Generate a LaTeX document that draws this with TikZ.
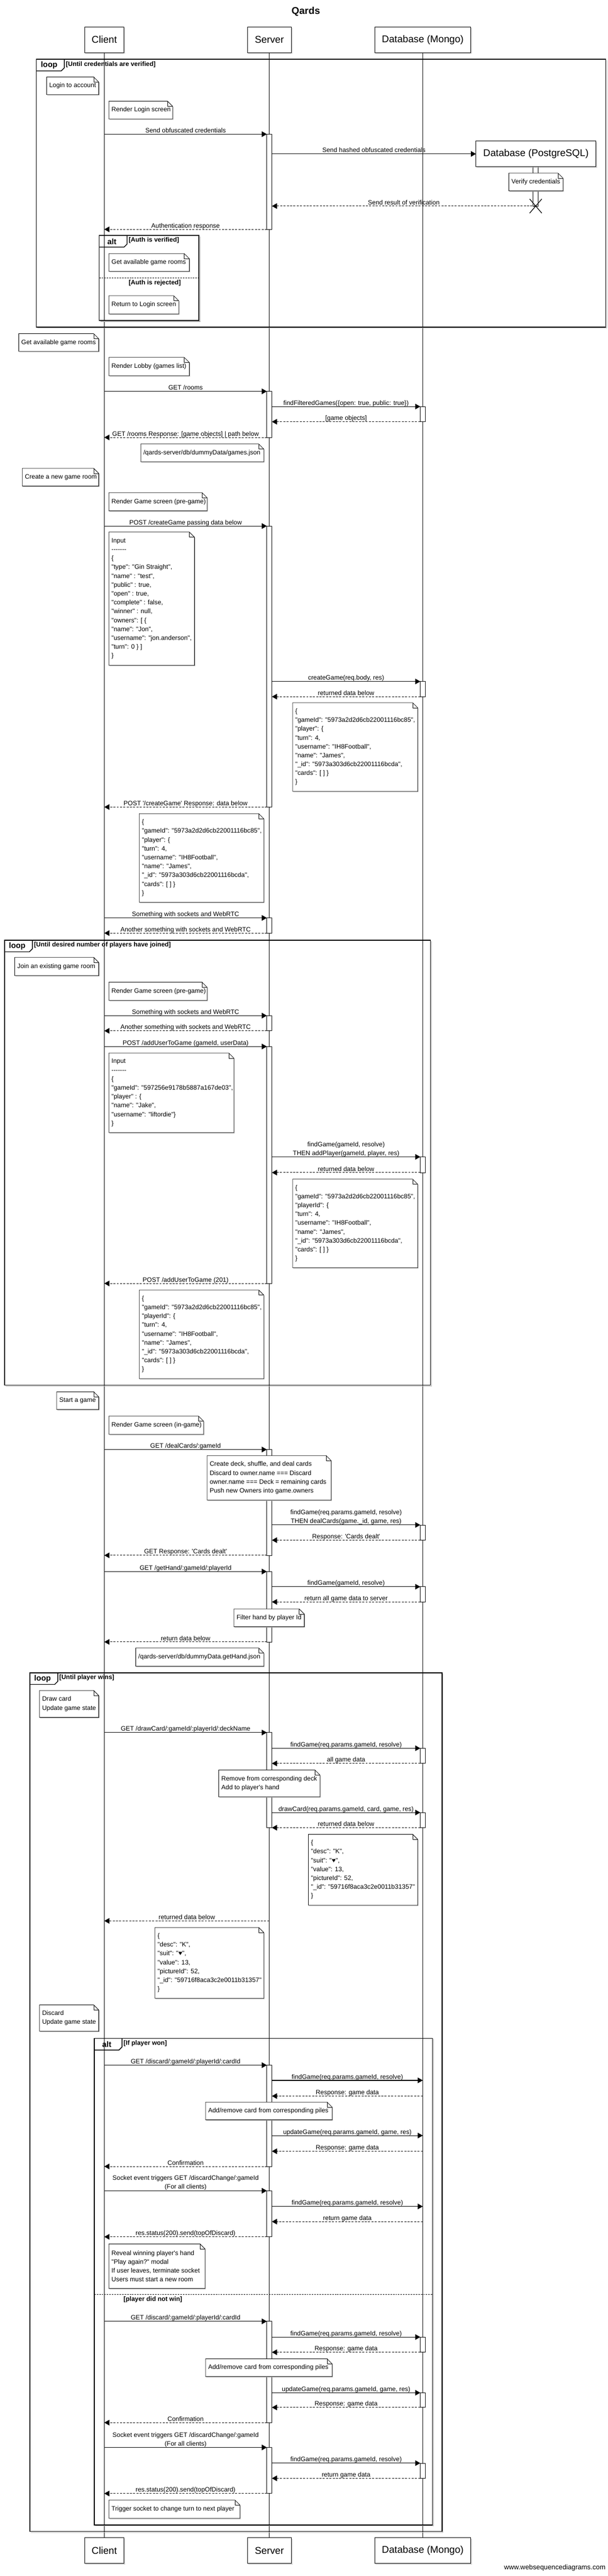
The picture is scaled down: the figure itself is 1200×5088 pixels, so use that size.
\documentclass[tikz,border=0pt]{standalone}
\usepackage{fontspec}
\newfontfamily\lsans{Liberation Sans}
\usetikzlibrary{arrows.meta,shadows}

\tikzset{
  lbl/.style={font=\lsans\fontsize{12.6}{17.5}\selectfont},
  msgtext/.style={lbl, anchor=base, inner sep=0pt},
  msgtextii/.style={lbl, anchor=south, inner sep=0pt, align=center},
  call/.style={line width=1.1pt, -{Triangle[length=10pt,width=11pt]}},
  ret/.style={line width=1pt, dash pattern=on 4pt off 2.5pt, -{Triangle[length=10pt,width=11pt]}},
  notetext/.style={lbl, align=left, inner sep=0pt, anchor=west},
  notebox/.style={fill=white, draw=black, line width=0.8pt},
  noteshadow/.style={fill=gray!55},
  part/.style={draw, line width=1pt, fill=white, inner sep=0pt, minimum height=51pt,
    font=\lsans\fontsize{19.5}{22}\selectfont,
    drop shadow={shadow xshift=2pt, shadow yshift=-2pt, fill=gray!60}},
  life/.style={line width=0.7pt},
  actbox/.style={draw, fill=white, line width=0.8pt},
  framebox/.style={line width=1.5pt},
  frameshadow/.style={draw=gray!60, line width=1.2pt},
  tabtext/.style={font=\lsans\bfseries\fontsize{15.5}{18}\selectfont, inner sep=0pt},
  condtext/.style={font=\lsans\bfseries\fontsize{12.6}{15}\selectfont, inner sep=0pt, anchor=west},
  elseline/.style={line width=1.3pt, dash pattern=on 3pt off 2pt},
}

\newcommand{\seqmsg}[6]{%
  \coordinate (#1a) at (#3,-#5);
  \coordinate (#1b) at (#4,-#5);
  \draw[#2] (#1a) -- (#1b);
  \node[msgtext] (#1) at ({(#3+#4)/2},{-#5+3}) {#6};
}
\newcommand{\seqmsgii}[6]{%
  \coordinate (#1a) at (#3,-#5);
  \coordinate (#1b) at (#4,-#5);
  \draw[#2] (#1a) -- (#1b);
  \node[msgtextii] (#1) at ({(#3+#4)/2},{-#5+0.5}) {#6};
}
\newcommand{\seqnote}[6]{%
  \fill[noteshadow] ({#2+1.5},{-#3-1.5}) -- ({#4-10+1.5},{-#3-1.5}) -- ({#4+1.5},{-#3-10-1.5}) -- ({#4+1.5},{-#5-1.5}) -- ({#2+1.5},{-#5-1.5}) -- cycle;
  \draw[notebox] (#2,-#3) -- ({#4-10},-#3) -- (#4,{-#3-10}) -- (#4,-#5) -- (#2,-#5) -- cycle;
  \draw[line width=0.6pt] ({#4-10},-#3) -- ({#4-10},{-#3-10}) -- (#4,{-#3-10});
  \node[notetext] (#1) at ({#2+5},{-(#3+#5)/2}) {#6};
}
\newcommand{\seqframe}[7]{%
  \draw[frameshadow] ({#2+2},{-#5-2}) -- ({#4+2},{-#5-2}) -- ({#4+2},{-#3-2});
  \draw[framebox] (#2,-#3) rectangle (#4,-#5);
  \draw[framebox] (#2,{-#3-23}) -- ({#2+49},{-#3-23}) -- ({#2+55},{-#3-17}) -- ({#2+55},-#3);
  \node[tabtext] (#1k) at ({#2+25},{-#3-12}) {#6};
  \node[condtext] (#1c) at ({#2+58},{-#3-10}) {#7};
}
\newcommand{\seqelse}[5]{%
  \draw[elseline] (#2,-#4) -- (#3,-#4);
  \node[condtext] (#1) at ({#2+58},{-#4-10}) {#5};
}
\newcommand{\seqact}[3]{\draw[actbox] ({#1-5},-#2) rectangle ({#1+5},-#3);}

\begin{document}
\begin{tikzpicture}[x=1pt,y=1pt]
\fill[white] (0,0) rectangle (1200,-5088);
\useasboundingbox (0,0) rectangle (1200,-5088);

% title
\node[font=\lsans\bfseries\fontsize{19.5}{22}\selectfont] (title) at (604,-23) {Qards};

% participants
\node[part, minimum width=78pt] (ctop) at (206,-78.5) {Client};
\node[part, minimum width=87pt] (stop) at (532,-78.5) {Server};
\node[part, minimum width=190pt] (mtop) at (835,-78.5) {Database (Mongo)};
\coordinate (cbotn) at (206,-5013);
\coordinate (sbotn) at (532,-5013);
\coordinate (mbotn) at (835,-5013);

% lifelines
\draw[life] (ctop.south) -- (cbotn);
\draw[life] (stop.south) -- (sbotn);
\draw[life] (mtop.south) -- (mbotn);

% server activations
\seqact{532}{265}{453}
\seqact{532}{773}{864}
\seqact{532}{1039}{1594}
\seqact{532}{1813}{1843}
\seqact{532}{2006}{2036}
\seqact{532}{2067}{2535}
\seqact{532}{2863}{3072}
\seqact{532}{3104}{3243}
\seqact{532}{3422}{3610}
\seqact{532}{4079}{4279}
\seqact{532}{4327}{4418}
\seqact{532}{4585}{4785}
\seqact{532}{4834}{4925}
% db activations
\seqact{835}{803}{833}
\seqact{835}{1346}{1376}
\seqact{835}{2285}{2316}
\seqact{835}{3012}{3042}
\seqact{835}{3134}{3164}
\seqact{835}{3453}{3483}
\seqact{835}{3580}{3610}
\seqact{835}{4616}{4646}
\seqact{835}{4726}{4755}
\seqact{835}{4865}{4895}

% PostgreSQL participant (created and destroyed)
\draw[actbox] (1053,-329) rectangle (1063,-407);
\node[part, minimum width=237pt] (pg) at (1058.5,-304) {Database (PostgreSQL)};
\coordinate (pgx) at (1058,-407);
\draw[line width=1.3pt] (1046,-393) -- (1070,-421);
\draw[line width=1.3pt] (1046,-421) -- (1070,-393);

% frames
\seqframe{lpA}{72}{117}{1196}{646}{loop}{[Until credentials are verified]}
\seqframe{altA}{196}{465}{393}{633}{alt}{[Auth is verified]}
\seqelse{altAe}{196}{393}{549}{[Auth is rejected]}
\seqframe{lpB}{9}{1857}{850}{2736}{loop}{[Until desired number of players have joined]}
\seqframe{lpC}{59}{3304}{873}{5000}{loop}{[Until player wins]}
\seqframe{altB}{186}{4026}{854}{4987}{alt}{[If player won]}
\seqelse{altBe}{186}{854}{4532}{[player did not win]}

% notes
\seqnote{n1}{92}{152}{195}{187}{Login to account}
\seqnote{n2}{215}{200}{341}{235}{Render Login screen}
\seqnote{n3}{1005}{342}{1112}{377}{Verify credentials}
\seqnote{n4}{215}{501}{374}{536}{Get available game rooms}
\seqnote{n5}{215}{584}{353}{620}{Return to Login screen}
\seqnote{n6}{37}{659}{195}{694}{Get available game rooms}
\seqnote{n7}{215}{706}{374}{742}{Render Lobby (games list)}
\seqnote{n8}{278}{877}{521}{912}{/qards-server/db/dummyData/games.json}
\seqnote{n9}{44}{925}{195}{960}{Create a new game room}
\seqnote{n10}{215}{973}{409}{1009}{Render Game screen (pre-game)}
\seqnote{n11}{215}{1051}{384}{1314}{Input\\-------\\\{\\"type": "Gin Straight",\\"name" : "test",\\"public" : true,\\"open" : true,\\"complete" : false,\\"winner" : null,\\"owners": [ \{\\"name": "Jon",\\"username": "jon.anderson",\\"turn": 0 \} ]\\\}}
\seqnote{n12}{578}{1388}{825}{1563}{\{\\"gameId": "5973a2d2d6cb22001116bc85",\\"player": \{\\"turn": 4,\\"username": "IH8Football",\\"name": "James",\\"\_id": "5973a303d6cb22001116bcda",\\"cards": [ ] \}\\\}}
\seqnote{n13}{275}{1607}{521}{1782}{\{\\"gameId": "5973a2d2d6cb22001116bc85",\\"player": \{\\"turn": 4,\\"username": "IH8Football",\\"name": "James",\\"\_id": "5973a303d6cb22001116bcda",\\"cards": [ ] \}\\\}}
\seqnote{n14}{29}{1891}{195}{1927}{Join an existing game room}
\seqnote{n15}{215}{1940}{409}{1976}{Render Game screen (pre-game)}
\seqnote{n16}{215}{2080}{462}{2237}{Input\\-------\\\{\\"gameId": "597256e9178b5887a167de03",\\"player" : \{\\"name": "Jake",\\"username": "liftordie"\}\\\}}
\seqnote{n17}{578}{2329}{825}{2504}{\{\\"gameId": "5973a2d2d6cb22001116bc85",\\"playerId": \{\\"turn": 4,\\"username": "IH8Football",\\"name": "James",\\"\_id": "5973a303d6cb22001116bcda",\\"cards": [ ] \}\\\}}
\seqnote{n18}{275}{2548}{521}{2723}{\{\\"gameId": "5973a2d2d6cb22001116bc85",\\"playerId": \{\\"turn": 4,\\"username": "IH8Football",\\"name": "James",\\"\_id": "5973a303d6cb22001116bcda",\\"cards": [ ] \}\\\}}
\seqnote{n19}{112}{2749}{195}{2784}{Start a game}
\seqnote{n20}{215}{2797}{402}{2833}{Render Game screen (in-game)}
\seqnote{n21}{409}{2875}{654}{2963}{Create deck, shuffle, and deal cards\\Discard to owner.name === Discard\\owner.name === Deck = remaining cards\\Push new Owners into game.owners}
\seqnote{n22}{462}{3178}{601}{3213}{Filter hand by player Id}
\seqnote{n23}{268}{3255}{521}{3291}{/qards-server/db/dummyData.getHand.json}
\seqnote{n24}{78}{3339}{195}{3392}{Draw card\\Update game state}
\seqnote{n25}{432}{3496}{632}{3549}{Remove from corresponding deck\\Add to player's hand}
\seqnote{n26}{609}{3623}{825}{3763}{\{\\"desc": "K",\\"suit": "♥",\\"value": 13,\\"pictureId": 52,\\"\_id": "59716f8aca3c2e0011b31357"\\\}}
\seqnote{n27}{306}{3807}{521}{3947}{\{\\"desc": "K",\\"suit": "♥",\\"value": 13,\\"pictureId": 52,\\"\_id": "59716f8aca3c2e0011b31357"\\\}}
\seqnote{n28}{78}{3960}{195}{4012}{Discard\\Update game state}
\seqnote{n29}{406}{4152}{656}{4187}{Add/remove card from corresponding piles}
\seqnote{n30}{215}{4432}{405}{4520}{Reveal winning player's hand\\"Play again?" modal\\If user leaves, terminate socket\\Users must start a new room}
\seqnote{n31}{406}{4659}{656}{4694}{Add/remove card from corresponding piles}
\seqnote{n32}{215}{4938}{474}{4974}{Trigger socket to change turn to next player}

% messages
\seqmsg{m1}{call}{206}{527}{265}{Send obfuscated credentials}
\seqmsg{m2}{call}{537}{940}{304}{Send hashed obfuscated credentials}
\seqmsg{m3}{ret}{1058}{537}{407}{Send result of verification}
\seqmsg{m4}{ret}{527}{206}{453}{Authentication response}
\seqmsg{m5}{call}{206}{527}{773}{GET /rooms}
\seqmsg{m6}{call}{537}{830}{803}{findFilteredGames(\{open: true, public: true\})}
\seqmsg{m7}{ret}{830}{537}{833}{[game objects]}
\seqmsg{m8}{ret}{527}{206}{864}{GET /rooms Response: [game objects] | path below}
\seqmsg{m9}{call}{206}{527}{1039}{POST /createGame passing data below}
\seqmsg{m10}{call}{537}{830}{1346}{createGame(req.body, res)}
\seqmsg{m11}{ret}{830}{537}{1376}{returned data below}
\seqmsg{m12}{ret}{527}{206}{1594}{POST '/createGame' Response: data below}
\seqmsg{m13}{call}{206}{527}{1813}{Something with sockets and WebRTC}
\seqmsg{m14}{ret}{527}{206}{1843}{Another something with sockets and WebRTC}
\seqmsg{m15}{call}{206}{527}{2006}{Something with sockets and WebRTC}
\seqmsg{m16}{ret}{527}{206}{2036}{Another something with sockets and WebRTC}
\seqmsg{m17}{call}{206}{527}{2067}{POST /addUserToGame (gameId, userData)}
\seqmsgii{m18}{call}{537}{830}{2285}{findGame(gameId, resolve)\\THEN addPlayer(gameId, player, res)}
\seqmsg{m19}{ret}{830}{537}{2316}{returned data below}
\seqmsg{m20}{ret}{527}{206}{2535}{POST /addUserToGame (201)}
\seqmsg{m21}{call}{206}{527}{2863}{GET /dealCards/:gameId}
\seqmsgii{m22}{call}{537}{830}{3012}{findGame(req.params.gameId, resolve)\\THEN dealCards(game.\_id, game, res)}
\seqmsg{m23}{ret}{830}{537}{3042}{Response: 'Cards dealt'}
\seqmsg{m24}{ret}{527}{206}{3072}{GET Response: 'Cards dealt'}
\seqmsg{m25}{call}{206}{527}{3104}{GET /getHand/:gameId/:playerId}
\seqmsg{m26}{call}{537}{830}{3134}{findGame(gameId, resolve)}
\seqmsg{m27}{ret}{830}{537}{3164}{return all game data to server}
\seqmsg{m28}{ret}{527}{206}{3243}{return data below}
\seqmsg{m29}{call}{206}{527}{3422}{GET /drawCard/:gameId/:playerId/:deckName}
\seqmsg{m30}{call}{537}{830}{3453}{findGame(req.params.gameId, resolve)}
\seqmsg{m31}{ret}{830}{537}{3483}{all game data}
\seqmsg{m32}{call}{537}{830}{3580}{drawCard(req.params.gameId, card, game, res)}
\seqmsg{m33}{ret}{830}{537}{3610}{returned data below}
\seqmsg{m34}{ret}{532}{206}{3794}{returned data below}
\seqmsg{m35}{call}{206}{527}{4079}{GET /discard/:gameId/:playerId/:cardId}
\seqmsg{m36}{call}{537}{835}{4109}{findGame(req.params.gameId, resolve)}
\seqmsg{m37}{ret}{835}{537}{4140}{Response: game data}
\seqmsg{m38}{call}{537}{835}{4218}{updateGame(req.params.gameId, game, res)}
\seqmsg{m39}{ret}{835}{537}{4249}{Response: game data}
\seqmsg{m40}{ret}{527}{206}{4279}{Confirmation}
\seqmsgii{m41}{call}{206}{527}{4327}{Socket event triggers GET /discardChange/:gameId\\(For all clients)}
\seqmsg{m42}{call}{537}{835}{4358}{findGame(req.params.gameId, resolve)}
\seqmsg{m43}{ret}{835}{537}{4388}{return game data}
\seqmsg{m44}{ret}{527}{206}{4418}{res.status(200).send(topOfDiscard)}
\seqmsg{m45}{call}{206}{527}{4585}{GET /discard/:gameId/:playerId/:cardId}
\seqmsg{m46}{call}{537}{830}{4616}{findGame(req.params.gameId, resolve)}
\seqmsg{m47}{ret}{830}{537}{4646}{Response: game data}
\seqmsg{m48}{call}{537}{830}{4726}{updateGame(req.params.gameId, game, res)}
\seqmsg{m49}{ret}{830}{537}{4755}{Response: game data}
\seqmsg{m50}{ret}{527}{206}{4785}{Confirmation}
\seqmsgii{m51}{call}{206}{527}{4834}{Socket event triggers GET /discardChange/:gameId\\(For all clients)}
\seqmsg{m52}{call}{537}{830}{4865}{findGame(req.params.gameId, resolve)}
\seqmsg{m53}{ret}{830}{537}{4895}{return game data}
\seqmsg{m54}{ret}{527}{206}{4925}{res.status(200).send(topOfDiscard)}

% bottom participants
\node[part, minimum width=78pt] (cbot) at (206,-5038) {Client};
\node[part, minimum width=87pt] (sbot) at (532,-5038) {Server};
\node[part, minimum width=190pt] (mbot) at (835,-5038) {Database (Mongo)};

% footer
\node[font=\lsans\fontsize{13.5}{16}\selectfont, anchor=east, inner sep=0pt] (wsd) at (1196,-5072) {www.websequencediagrams.com};
\end{tikzpicture}
\end{document}
